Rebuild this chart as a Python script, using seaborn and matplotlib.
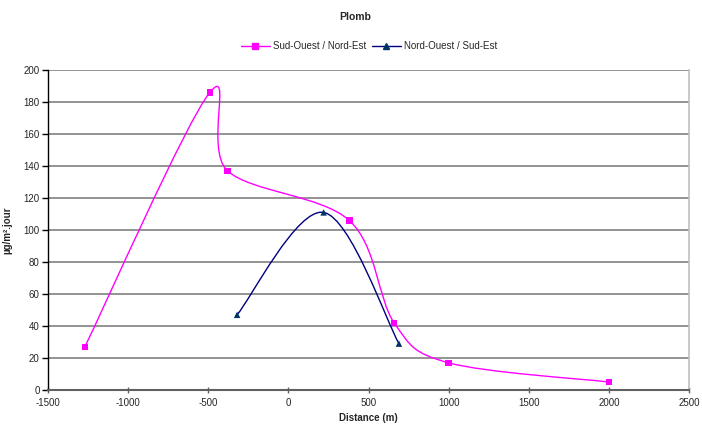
import matplotlib
matplotlib.use("Agg")
import matplotlib.pyplot as plt
import seaborn as sns
import numpy as np
import pandas as pd
from matplotlib.path import Path
from matplotlib.patches import PathPatch
from matplotlib.lines import Line2D

# Data
so_ne_x = [-1270, -490, -380, 380, 660, 1000, 2000]
so_ne_y = [27, 186, 137, 106, 42, 17, 5]
no_se_x = [-320, 220, 690]
no_se_y = [47, 111, 29]
series_names = ["Sud-Ouest / Nord-Est", "Nord-Ouest / Sud-Est"]
title = "Plomb"
xlabel = "Distance (m)"
ylabel = "µg/m².jour"
x_ticks = [-1500, -1000, -500, 0, 500, 1000, 1500, 2000, 2500]
y_ticks = [0, 20, 40, 60, 80, 100, 120, 140, 160, 180, 200]

colors = ["#FF00FF", "#000080"]
marker_colors = ["#FF00FF", "#003366"]
markers = ["s", "^"]

sns.set_theme(style="white")
plt.rcParams["font.family"] = ["Liberation Sans", "DejaVu Sans"]

fig = plt.figure(figsize=(7.02, 4.26), dpi=100)
ax = fig.add_axes([48 / 702, 1 - 390 / 426, 641 / 702, 320 / 426])

df = pd.concat([
    pd.DataFrame({"x": so_ne_x, "y": so_ne_y, "s": series_names[0]}),
    pd.DataFrame({"x": no_se_x, "y": no_se_y, "s": series_names[1]}),
])


def smooth_path(xs, ys):
    pts = np.column_stack([xs, ys]).astype(float)
    n = len(pts)
    verts = [pts[0]]
    codes = [Path.MOVETO]
    for i in range(n - 1):
        p0 = pts[i - 1] if i > 0 else pts[i]
        p1 = pts[i]
        p2 = pts[i + 1]
        p3 = pts[i + 2] if i + 2 < n else pts[i + 1]
        c1 = p1 + (p2 - p0) / 6.0
        c2 = p2 - (p3 - p1) / 6.0
        verts += [c1, c2, p2]
        codes += [Path.CURVE4] * 3
    return Path(verts, codes)


for (xs, ys, c) in [(so_ne_x, so_ne_y, colors[0]), (no_se_x, no_se_y, colors[1])]:
    patch = PathPatch(smooth_path(xs, ys), facecolor="none", edgecolor=c, lw=1.0, zorder=3)
    ax.add_patch(patch)

sns.scatterplot(data=df, x="x", y="y", hue="s", style="s",
                palette=marker_colors, markers=markers, s=22,
                edgecolor="none", ax=ax, legend=False, zorder=4)

ax.set_xlim(-1500, 2500)
ax.set_ylim(0, 200)
ax.set_xticks(x_ticks)
ax.set_yticks(y_ticks)
ax.set_xticklabels([str(t) for t in x_ticks], fontsize=7)
ax.set_yticklabels([str(t) for t in y_ticks], fontsize=7)
ax.yaxis.grid(True, color="#808080", lw=1.2)
ax.set_axisbelow(True)
ax.set_xlabel(xlabel, fontsize=7, fontweight="bold", labelpad=4)
ax.set_ylabel(ylabel, fontsize=7, fontweight="bold", labelpad=8)

ax.spines["top"].set_visible(False)
ax.spines["right"].set_color("#C0C0C0")
ax.spines["right"].set_linewidth(1.2)
ax.spines["left"].set_color("black")
ax.spines["left"].set_linewidth(1.0)
ax.spines["bottom"].set_color("#606060")
ax.spines["bottom"].set_linewidth(1.5)
ax.tick_params(axis="y", direction="out", length=4, width=1, color="black", left=True, pad=2)
ax.tick_params(axis="x", direction="inout", length=5, width=1, color="#606060", bottom=True, pad=3)

fig.text(355 / 702, 1 - 17 / 426, title, ha="center", va="center", fontsize=7.5, fontweight="bold")

handles = [Line2D([0], [0], color=colors[0], marker=markers[0], markerfacecolor=marker_colors[0],
                  markeredgecolor=marker_colors[0], markersize=4, lw=1),
           Line2D([0], [0], color=colors[1], marker=markers[1], markerfacecolor=marker_colors[1],
                  markeredgecolor=marker_colors[1], markersize=4, lw=1)]
fig.legend(handles, series_names, loc="center", bbox_to_anchor=(369 / 702, 1 - 46 / 426),
           ncol=2, frameon=False, fontsize=7, handlelength=3, columnspacing=0.6, handletextpad=0.3)

fig.savefig("out.png", dpi=100)
